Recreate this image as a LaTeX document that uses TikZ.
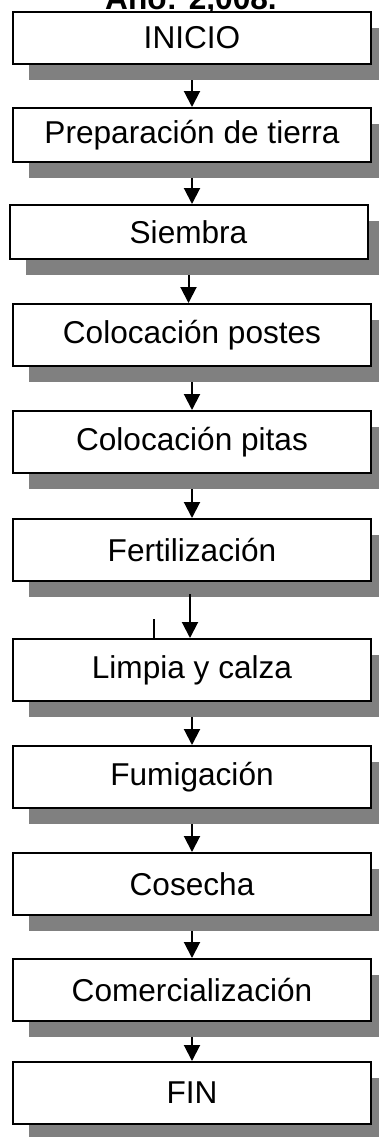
\documentclass[tikz,border=0pt]{standalone}
\usepackage{fontspec}
\setmainfont{Liberation Sans}
\usetikzlibrary{arrows.meta, positioning, shadows, backgrounds}

\begin{document}
\begin{tikzpicture}[
    paso/.style={rectangle, draw, line width=1pt, fill=white, minimum width=179pt, minimum height=31pt, inner sep=0pt, font=\fontsize{15.8}{18}\selectfont, drop shadow={shadow xshift=8pt, shadow yshift=-8pt, fill=black!50, opacity=1}},
    flecha/.style={-{Triangle[width=8pt,length=8pt]}, line width=1pt}
]
\useasboundingbox (0,0) rectangle (189.5pt,-568.5pt);

\node[font=\bfseries\fontsize{15.8}{18}\selectfont, anchor=base] (titulo) at (95.5pt,-4.5pt) {Año: 2,008.};

\node[paso, minimum height=26pt] (inicio) at (96pt,-19pt) {INICIO};
\node[paso, minimum height=27pt, below=21pt of inicio] (prep) {Preparación de tierra};
\node[paso, minimum height=27pt, below=20.5pt of prep, xshift=-1.75pt] (siembra) {Siembra};
\node[paso, below=21.5pt of siembra, xshift=1.75pt] (postes) {Colocación postes};
\node[paso, below=21.5pt of postes] (pitas) {Colocación pitas};
\node[paso, below=22pt of pitas] (fert) {Fertilización};
\node[paso, below=28pt of fert] (limpia) {Limpia y calza};
\node[paso, below=21.5pt of limpia] (fumig) {Fumigación};
\node[paso, below=21.5pt of fumig] (cosecha) {Cosecha};
\node[paso, below=21pt of cosecha] (comerc) {Comercialización};
\node[paso, below=19.5pt of comerc] (fin) {FIN};

% flechas detras de las sombras
\begin{scope}[on background layer]
\foreach \a/\b in {inicio/prep, prep/siembra, siembra/postes, postes/pitas, pitas/fert, limpia/fumig, fumig/cosecha, cosecha/comerc, comerc/fin}
    \draw[flecha] (\a.south) -- (\a.south |- \b.north);
\end{scope}

\draw[flecha] ([xshift=-1pt, yshift=-6pt]fert.south) -- ([xshift=-1pt]limpia.north);

% trazo suelto sobre Limpia y calza
\coordinate[above left=9.5pt and 19pt of limpia.north] (marca);
\draw[line width=1pt] (marca) -- (marca |- limpia.north);
\end{tikzpicture}
\end{document}
